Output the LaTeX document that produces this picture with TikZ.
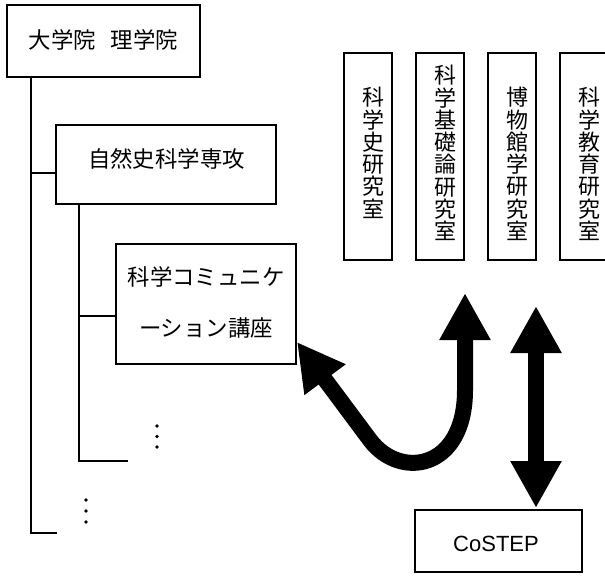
\documentclass[tikz,border=0pt]{standalone}
\usepackage{fontspec}
\newfontfamily\jpfont{Noto Sans CJK JP}
\newfontfamily\latfont{Liberation Sans}
\usetikzlibrary{arrows.meta}
\begin{document}
\begin{tikzpicture}[x=1pt,y=-1pt,
  box/.style={draw, line width=1.6pt, inner sep=0pt},
  tree/.style={line width=1.6pt},
  jptext/.style={font=\jpfont\fontsize{22.4}{22.4}\selectfont, inner sep=0pt},
  twoline/.style={font=\jpfont\fontsize{22.4}{51}\selectfont, inner sep=0pt, align=center},
  vtext/.style={font=\jpfont\fontsize{22}{22.3}\selectfont, inner sep=0pt, align=center, anchor=north},
  bigarrow/.style={line width=16pt, {Triangle[width=48pt,length=47pt]}-{Triangle[width=48pt,length=47pt]}},
  dotmark/.style={circle, fill, inner sep=0pt, minimum size=3.6pt}]
\clip (0,0) rectangle (605,583);
% left boxes
\node[box, minimum width=193pt, minimum height=72pt] (b1) at (103.5,41) {};
\node[jptext] (t1) at (103.5,40) {大学院\hspace{15pt}理学院};
\node[box, minimum width=220pt, minimum height=79pt] (b2) at (166,164.5) {};
\node[jptext] (t2) at (166.5,159) {自然史科学専攻};
\node[box, minimum width=180pt, minimum height=120pt] (b3) at (206,304) {};
\node[twoline] (t3) at (206,302.5) {科学コミュニケ\\ーション講座};
% tree lines
\coordinate (t1end) at (57,533);
\draw[tree] ([xshift=25pt]b1.south west) |- (t1end);
\coordinate (j1) at (31,173);
\draw[tree] (j1) -- (b2.west |- j1);
\coordinate (t2end) at (128,461);
\draw[tree] ([xshift=24pt]b2.south west) |- (t2end);
\coordinate (j2) at (79,316);
\draw[tree] (j2) -- (b3.west |- j2);
% dots
\foreach \yy in {426,436.5,447} \node[dotmark] at (157,\yy) {};
\foreach \yy in {500,511,522} \node[dotmark] at (86,\yy) {};
% vertical boxes
\node[box, minimum width=48pt, minimum height=207pt] (v1) at (368,156.5) {};
\node[box, minimum width=48pt, minimum height=207pt] (v2) at (440,156.5) {};
\node[box, minimum width=48pt, minimum height=207pt] (v3) at (512,156.5) {};
\node[box, minimum width=48pt, minimum height=207pt] (v4) at (584,156.5) {};
\node[vtext] (vt1) at (373,87) {科\\学\\史\\研\\究\\室};
\node[vtext] (vt2) at (445,65) {科\\学\\基\\礎\\論\\研\\究\\室};
\node[vtext] (vt3) at (517,87) {博\\物\\館\\学\\研\\究\\室};
\node[vtext] (vt4) at (589,87) {科\\学\\教\\育\\研\\究\\室};
% CoSTEP
\node[box, minimum width=167pt, minimum height=62pt] (cs) at (498.5,541) {};
\node[font=\latfont\fontsize{22}{22}\selectfont, inner sep=0pt] (cst) at (496,544) {CoSTEP};
% arrows
\coordinate (uL) at (297,342);
\coordinate (uB) at (370,440);
\coordinate (uR) at (465,390);
\coordinate (uT) at (465,293);
\draw[bigarrow] (uL) -- (uB) .. controls (400,480) and (465,470) .. (uR) -- (uT);
\coordinate (dT) at (536,306);
\coordinate (dB) at (536,508);
\draw[bigarrow] (dT) -- (dB);
\end{tikzpicture}
\end{document}
